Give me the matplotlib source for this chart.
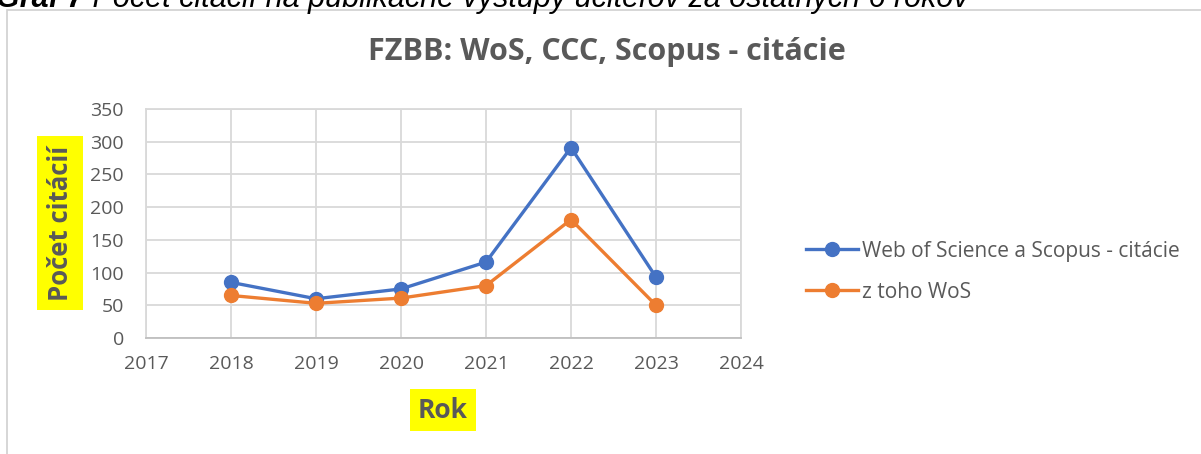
import matplotlib.pyplot as plt
from matplotlib.patches import Rectangle

# data
years = [2018, 2019, 2020, 2021, 2022, 2023]
wos_scopus = [85, 60, 75, 116, 291, 93]
wos_only = [65, 53, 61, 80, 181, 50]
labels = ['Web of Science a Scopus - citácie', 'z toho WoS']

plt.rcParams['font.family'] = ['Open Sans', 'DejaVu Sans']
grey = '#595959'

fig = plt.figure(figsize=(12.01, 4.54), dpi=100)
W, H = 1201, 454

# chart border (cut off at the right, like in the source)
fig.add_artist(Rectangle((7 / W, -0.1), 1.2, 1 - 10 / H + 0.1, transform=fig.transFigure,
                         fill=False, edgecolor='#d0d0d0', linewidth=1.2))

# clipped caption above the chart
cap1 = fig.text(-4 / W, 1 - 7 / H, 'Graf 7', fontsize=22, fontweight='bold', style='italic',
                family='Liberation Sans', va='baseline', ha='left')
r = fig.canvas.get_renderer()
x_end = cap1.get_window_extent(r).x1 / W
fig.text(x_end, 1 - 7 / H, ' Počet citácií na publikačné výstupy učiteľov za ostatných 6 rokov',
         fontsize=22, style='italic', family='Liberation Sans', va='baseline', ha='left')

ax = fig.add_axes([146 / W, 1 - 338 / H, (741 - 146) / W, (338 - 109) / H])
ax.plot(years, wos_scopus, color='#4472C4', linewidth=2.4, marker='o', markersize=10,
        label=labels[0], zorder=3)
ax.plot(years, wos_only, color='#ED7D31', linewidth=2.4, marker='o', markersize=10,
        label=labels[1], zorder=3)

ax.set_xlim(2017, 2024)
ax.set_ylim(0, 350)
ax.set_xticks(range(2017, 2025))
ax.set_yticks(range(0, 351, 50))
ax.grid(True, color='#d9d9d9', linewidth=1.3)
ax.set_axisbelow(True)
for side in ['top', 'right', 'left']:
    ax.spines[side].set_color('#d9d9d9')
    ax.spines[side].set_linewidth(1.3)
ax.spines['bottom'].set_color('#bfbfbf')
ax.spines['bottom'].set_linewidth(1.3)
ax.tick_params(length=0, labelsize=14, labelcolor=grey)
ax.tick_params(axis='y', pad=16)
ax.tick_params(axis='x', pad=12)

fig.text(607 / W, 1 - 52 / H, 'FZBB: WoS, CCC, Scopus - citácie', fontsize=22,
         fontweight='bold', color=grey, ha='center', va='center')

fig.text(60 / W, 1 - 223 / H, 'Počet citácií', fontsize=18.5, fontweight='bold', color=grey,
         rotation=90, ha='center', va='center',
         bbox=dict(boxstyle='square,pad=0.38', facecolor='#FFFF00', edgecolor='none'))
fig.text(443 / W, 1 - 410 / H, 'Rok', fontsize=19, fontweight='bold', color=grey,
         ha='center', va='center',
         bbox=dict(boxstyle='square,pad=0.3', facecolor='#FFFF00', edgecolor='none'))

leg = fig.legend(loc='upper left', bbox_to_anchor=(787 / W, 1 - 222 / H), frameon=False,
                 fontsize=15, labelcolor=grey, handlelength=2.5, handletextpad=0.2,
                 labelspacing=0.95)

fig.savefig('out.png', dpi=100)
